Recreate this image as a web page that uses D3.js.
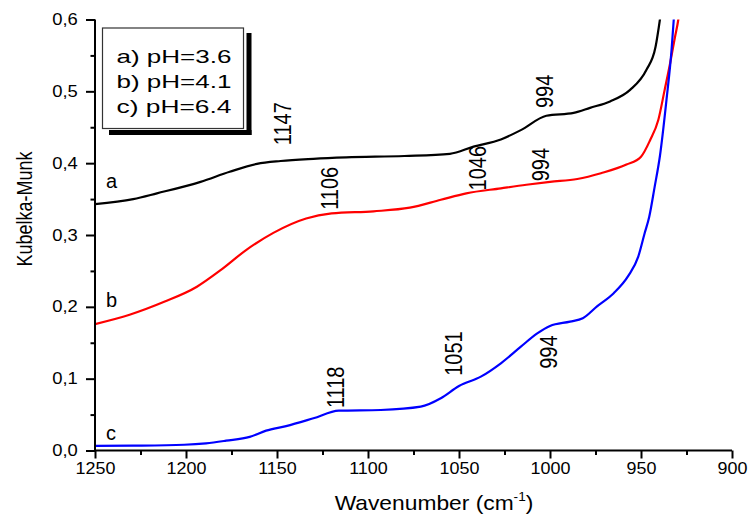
<!DOCTYPE html>
<html><head><meta charset="utf-8">
<script src="https://cdn.jsdelivr.net/npm/d3@7"></script>
<style>
html,body{margin:0;padding:0;background:#fff;}
svg{display:block;font-family:"Liberation Sans",Arial,sans-serif;}
</style></head>
<body>
<svg id="chart" width="749" height="516"></svg>
<script>
// ---- data ----
const seriesNames = ["a", "b", "c"];
const legendLabels = ["a) pH=3.6", "b) pH=4.1", "c) pH=6.4"];
const seriesColors = ["#000000", "#ff0000", "#0000ff"];

const waveA = [1250,1229,1216,1192,1176,1161,1148,1130,1112,1080,1055,1042,1027,1016,1002,987,978,967,956,947,942,939.6,938];
const kmA   = [0.343,0.350,0.358,0.374,0.388,0.399,0.403,0.406,0.408,0.410,0.413,0.423,0.433,0.446,0.466,0.470,0.477,0.486,0.502,0.530,0.562,0.600,0.63];

const waveB = [1250,1231,1212,1194,1181,1167,1152,1134,1120,1097,1077,1060,1046,1027,1013,1000,985,972,958,950,945,940.5,937,934,931.3,929.5,928.5];
const kmB   = [0.176,0.189,0.207,0.228,0.251,0.279,0.303,0.323,0.330,0.333,0.338,0.349,0.358,0.365,0.370,0.374,0.378,0.386,0.398,0.409,0.432,0.460,0.502,0.539,0.576,0.600,0.62];

const waveC = [1250,1229,1201,1189,1178,1165,1156,1145,1130,1116,1093,1071,1060,1050,1038,1027,1016,1007,1000,989,982,974,965,957,951.5,948,945.5,942.5,939.6,936,933.2,932,931.5];
const kmC   = [0.0063,0.0067,0.008,0.010,0.0137,0.019,0.0276,0.034,0.0448,0.0554,0.0564,0.061,0.0727,0.0898,0.1028,0.1214,0.1446,0.163,0.1734,0.1794,0.184,0.201,0.219,0.243,0.27,0.3025,0.325,0.367,0.41,0.488,0.558,0.600,0.62];

const xTicks = [1250,1200,1150,1100,1050,1000,950,900];
const yTicks = [0,0.1,0.2,0.3,0.4,0.5,0.6];

// peak annotations
const peakLabels = ["1147","1106","1046","994","994","1118","1051","994"];
const peakWave   = [1147, 1121, 1040, 1003, 1005, 1118, 1053, 1001];
const peakKm     = [0.455, 0.365, 0.393, 0.50, 0.398, 0.088, 0.135, 0.137];

// ---- layout ----
const svg = d3.select("#chart");
const L = 95, R = 732, T = 19.5, B = 450.5;
const x = d3.scaleLinear().domain([1250, 900]).range([L, R]);
const y = d3.scaleLinear().domain([0, 0.6]).range([B, T]);

svg.append("defs").append("clipPath").attr("id","clip")
  .append("rect").attr("x", L).attr("y", T).attr("width", R - L).attr("height", B - T);

// curves
const seriesData = [
  waveA.map((w,i)=>[w,kmA[i]]),
  waveB.map((w,i)=>[w,kmB[i]]),
  waveC.map((w,i)=>[w,kmC[i]])
];
const line = d3.line().x(d=>x(d[0])).y(d=>y(d[1])).curve(d3.curveMonotoneX);
const g = svg.append("g").attr("clip-path","url(#clip)");
seriesData.forEach((d,i)=>{
  g.append("path").attr("d", line(d)).attr("fill","none")
   .attr("stroke", seriesColors[i]).attr("stroke-width", 2.2).attr("stroke-linejoin","round");
});

// axes
const xAxis = svg.append("g").attr("transform", `translate(0,${B})`)
  .call(d3.axisBottom(x).tickValues(xTicks).tickSize(8).tickPadding(4).tickFormat(d3.format("d")));
const xMinor = svg.append("g").attr("transform", `translate(0,${B})`)
  .call(d3.axisBottom(x).tickValues(d3.range(1225, 900, -50)).tickSize(4.5).tickFormat(""));
const yAxis = svg.append("g").attr("transform", `translate(${L},0)`)
  .call(d3.axisLeft(y).tickValues(yTicks).tickSize(9).tickPadding(6).tickFormat(d => d3.format(".1f")(d).replace(".", ",")));
const yMinor = svg.append("g").attr("transform", `translate(${L},0)`)
  .call(d3.axisLeft(y).tickValues(d3.range(0.05, 0.6, 0.1)).tickSize(4.5).tickFormat(""));

[xAxis, xMinor, yAxis, yMinor].forEach(a=>{
  a.select(".domain").attr("stroke","#000").attr("stroke-width",2);
  a.selectAll(".tick line").attr("stroke","#000").attr("stroke-width",2);
});
xMinor.select(".domain").remove(); yMinor.select(".domain").remove();
xAxis.select(".domain").attr("d", `M${L},0H${R}`);
yAxis.select(".domain").attr("d", `M0,${B}V${T}`);

xAxis.selectAll(".tick text").attr("font-size",16).attr("fill","#000")
  .attr("font-family","Liberation Sans, Arial, sans-serif")
  .attr("transform","scale(1.12,1)");
yAxis.selectAll(".tick text").attr("font-size",16).attr("fill","#000")
  .attr("font-family","Liberation Sans, Arial, sans-serif")
  .attr("transform","scale(1.15,1)");

// axis titles
svg.append("text").attr("transform","translate(434,510) scale(1.14,1)")
  .attr("text-anchor","middle").attr("font-size",20).attr("fill","#000")
  .call(t=>{
    t.append("tspan").text("Wavenumber (cm");
    t.append("tspan").attr("font-size",12).attr("dy",-9).text("-1");
    t.append("tspan").attr("dy",9).text(")");
  });
svg.append("text").attr("transform","translate(32,209) scale(1.25,1) rotate(-90)")
  .attr("text-anchor","middle").attr("font-size",18).attr("fill","#000")
  .text("Kubelka-Munk");

// curve letters
const letterY = [0.365, 0.20, 0.015];
seriesNames.forEach((n,i)=>{
  svg.append("text").attr("x",106).attr("y", y(letterY[i]))
    .attr("font-size",20).attr("fill","#000").text(n);
});

// peak annotations (rotated)
peakLabels.forEach((lab,i)=>{
  svg.append("text")
    .attr("transform", `translate(${x(peakWave[i])},${y(peakKm[i])}) scale(1.17,1) rotate(-90)`)
    .attr("text-anchor","middle").attr("dy","0.36em")
    .attr("font-size",20).attr("fill","#000").text(lab);
});

// legend
const lg = svg.append("g");
lg.append("rect").attr("x",246.5).attr("y",33).attr("width",5).attr("height",102).attr("fill","#000");
lg.append("rect").attr("x",109).attr("y",130).attr("width",142.5).attr("height",5).attr("fill","#000");
lg.append("rect").attr("x",102.5).attr("y",28).attr("width",141).attr("height",100.5)
  .attr("fill","#fff").attr("stroke","#333").attr("stroke-width",1.2);
legendLabels.forEach((lab,i)=>{
  lg.append("text").attr("x",116.5).attr("y",63 + i*25)
    .attr("font-size",19).attr("fill","#000")
    .attr("textLength",115).attr("lengthAdjust","spacingAndGlyphs").text(lab);
});
</script>
</body></html>
